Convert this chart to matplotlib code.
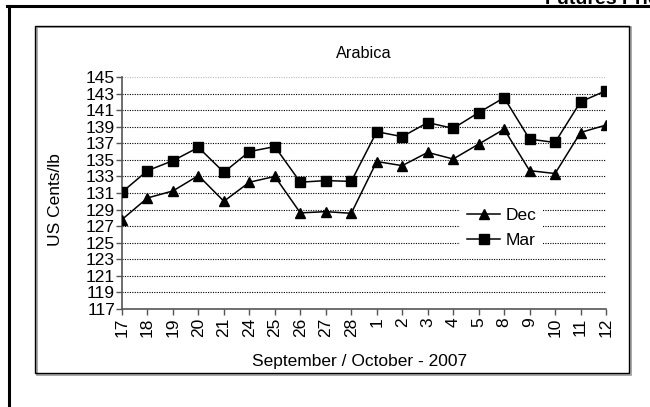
import matplotlib.pyplot as plt
from matplotlib.patches import Rectangle
from matplotlib.lines import Line2D

plt.rcParams["font.family"] = ["Liberation Sans", "DejaVu Sans"]

# === DADOS ===
days = ["17", "18", "19", "20", "21", "24", "25", "26", "27", "28",
        "1", "2", "3", "4", "5", "8", "9", "10", "11", "12"]
dec = [127.8, 130.4, 131.25, 133.1, 130.0, 132.3, 133.0, 128.6, 128.75, 128.55,
       134.8, 134.3, 135.9, 135.1, 136.9, 138.7, 133.7, 133.35, 138.3, 139.2]
mar = [131.1, 133.7, 134.9, 136.5, 133.5, 136.0, 136.6, 132.3, 132.5, 132.4,
       138.4, 137.8, 139.5, 138.8, 140.7, 142.5, 137.5, 137.1, 142.0, 143.35]
y_ticks = list(range(117, 146, 2))

W, H = 650, 407
fig = plt.figure(figsize=(W / 100, H / 100), dpi=100)


def px(x, y):
    # pixel (from top-left) -> figure fraction
    return x / W, 1 - y / H


# moldura externa (linhas grossas)
fig.add_artist(Line2D([7 / W, 1], [1 - 6.3 / H] * 2, color="black", lw=2.2,
                      transform=fig.transFigure))
fig.add_artist(Line2D([8.5 / W] * 2, [0, 1 - 6.3 / H], color="black", lw=2.2,
                      transform=fig.transFigure))
# título da página, cortado no topo como no original
fig.text(545 / W, 1 - 4 / H, "Futures Prices", fontsize=14, fontweight="bold",
         ha="left", va="baseline")

# caixa do gráfico com sombra
fig.add_artist(Rectangle((36.5 / W, 1 - 374.5 / H), 594 / W, 348 / H,
                         transform=fig.transFigure, fill=False,
                         edgecolor="#9a9a9a", lw=1.2))
fig.add_artist(Rectangle((35 / W, 1 - 373 / H), 594 / W, 347 / H,
                         transform=fig.transFigure, fill=False,
                         edgecolor="black", lw=1.0))

x0, y0 = px(122, 309)
x1, y1 = px(606, 77)
ax = fig.add_axes([x0, y0, x1 - x0, y1 - y0])

xs = list(range(len(days)))
for v in y_ticks[1:-1]:
    ax.axhline(v, color="black", lw=0.8, ls=(0, (1, 1.2)), zorder=1)
ax.axhline(145, color="#bbbbbb", lw=0.8, ls=(0, (1, 1.2)), zorder=1)

ax.plot(xs, dec, color="black", lw=1.1, marker="^", ms=7.5, label="Dec", zorder=3)
ax.plot(xs, mar, color="black", lw=1.1, marker="s", ms=6.5, label="Mar", zorder=3)

ax.set_xlim(0, len(days) - 1)
ax.set_ylim(117, 145)
ax.set_xticks(xs)
ax.set_xticklabels(days, rotation=90, fontsize=12.5)
ax.set_yticks(y_ticks)
ax.set_yticklabels([str(v) for v in y_ticks], fontsize=12.5)
ax.tick_params(axis="both", direction="out", length=4, width=1, color="#555555", pad=2)
ax.tick_params(axis="y", pad=1)

for s in ["top", "right"]:
    ax.spines[s].set_visible(False)
for s in ["left", "bottom"]:
    ax.spines[s].set_color("#555555")
    ax.spines[s].set_linewidth(1.2)

ax.set_title("Arabica", fontsize=11.7, pad=14)
fig.text(55 / W, 1 - 200 / H, "US Cents/lb", rotation=90, fontsize=12.5,
         ha="center", va="center")
fig.text(360 / W, 1 - 366 / H, "September / October - 2007", fontsize=12.5,
         ha="center", va="baseline")

leg = ax.legend(loc="center", bbox_to_anchor=(0.785, 0.35), frameon=True,
                fontsize=12.5, handlelength=1.9, handletextpad=0.3,
                labelspacing=0.6, borderpad=0.4, borderaxespad=0)
leg.get_frame().set_facecolor("white")
leg.get_frame().set_edgecolor("none")
leg.get_frame().set_alpha(1)
leg.get_frame().set_boxstyle("square", pad=0.0)
leg.set_zorder(4)

fig.savefig("out.png", dpi=100)
